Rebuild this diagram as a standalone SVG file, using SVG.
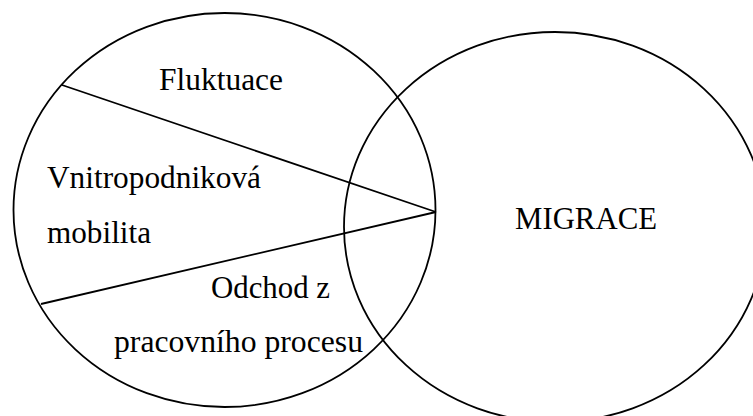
<svg xmlns="http://www.w3.org/2000/svg" width="753" height="416" viewBox="0 0 753 416">
<style>
.shape{fill:none;stroke:#000;stroke-width:1.8}
.lbl{font-family:"Liberation Serif","Times New Roman",serif;font-size:32px;fill:#000}
</style>
<rect width="753" height="416" fill="#fff"/>
<g id="left-set">
<ellipse class="shape" cx="224.5" cy="210" rx="211" ry="197"/>
</g>
<g id="migrace">
<ellipse class="shape" cx="555" cy="227" rx="211" ry="195"/>
<text class="lbl" x="515" y="228.5" textLength="142" lengthAdjust="spacingAndGlyphs">MIGRACE</text>
</g>
<g id="connectors">
<line class="shape" x1="62" y1="85" x2="436" y2="212"/>
<line class="shape" x1="41" y1="304" x2="436" y2="212"/>
</g>
<g id="fluktuace">
<text class="lbl" x="159" y="90" textLength="124" lengthAdjust="spacingAndGlyphs">Fluktuace</text>
</g>
<g id="vnitropodnikova">
<text class="lbl" x="47" y="188" textLength="214" lengthAdjust="spacingAndGlyphs">Vnitropodniková</text>
<text class="lbl" x="47" y="243" textLength="104" lengthAdjust="spacingAndGlyphs">mobilita</text>
</g>
<g id="odchod">
<text class="lbl" x="211" y="298" textLength="119" lengthAdjust="spacingAndGlyphs">Odchod z</text>
<text class="lbl" x="114" y="352" textLength="249" lengthAdjust="spacingAndGlyphs">pracovního procesu</text>
</g>
</svg>
